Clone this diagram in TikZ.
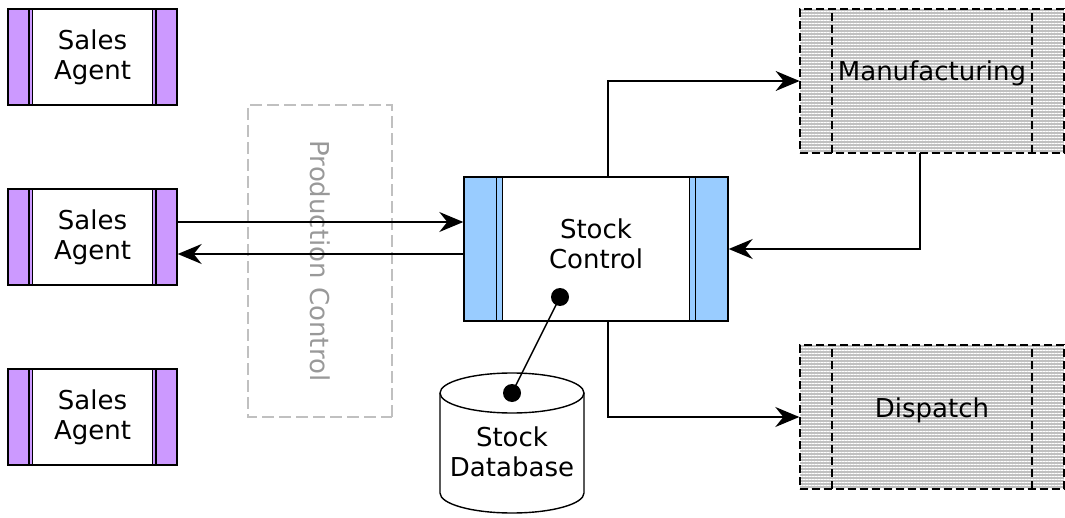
\documentclass[tikz,border=0pt]{standalone}
\usepackage{fontspec}
\setmainfont{DejaVu Sans}
\usetikzlibrary{arrows.meta,patterns.meta,calc}

\definecolor{agentpurple}{HTML}{CC99FF}
\definecolor{stockblue}{HTML}{99CCFF}
\definecolor{hatchgray}{HTML}{C0C0C0}
\definecolor{groupgray}{HTML}{C0C0C0}
\definecolor{grouptext}{HTML}{999999}

\tikzset{
    sidebars/.style={path picture={
            \path (path picture bounding box.south west) coordinate (psw)
                  (path picture bounding box.north west) coordinate (pnw)
                  (path picture bounding box.south east) coordinate (pse)
                  (path picture bounding box.north east) coordinate (pne);
            \fill[#1] (psw) rectangle ($(pnw)!0.145!(pne)$);
            \fill[#1] ($(psw)!0.855!(pse)$) rectangle (pne);
            \foreach \f in {0.124,0.145,0.855,0.876}
                \draw ($(psw)!\f!(pse)$) -- ($(pnw)!\f!(pne)$);
        }},
    sidedashes/.style={path picture={
            \path (path picture bounding box.south west) coordinate (psw)
                  (path picture bounding box.north west) coordinate (pnw)
                  (path picture bounding box.south east) coordinate (pse)
                  (path picture bounding box.north east) coordinate (pne);
            \foreach \f in {0.121,0.879}
                \draw[dash pattern=on 4pt off 2pt] ($(psw)!\f!(pse)$) -- ($(pnw)!\f!(pne)$);
        }}
}

\begin{document}
\begin{tikzpicture}[
        x=0.5pt, y=-0.5pt,
        line width=0.7pt,
        every node/.style={font=\fontsize{13}{15}\selectfont, align=center},
        arr/.style={-{Stealth[length=12pt,width=10pt,inset=4pt]}},
        agent/.style={draw, fill=white, minimum width=84.5pt, minimum height=48pt, sidebars=agentpurple},
        stockbox/.style={draw, fill=white, minimum width=132pt, minimum height=72pt, sidebars=stockblue},
        dept/.style={draw, dash pattern=on 4pt off 2pt, preaction={fill=hatchgray},
                pattern={Lines[angle=0,distance=1.5pt,line width=0.4pt]}, pattern color=white,
                minimum width=132pt, minimum height=72pt, text height=0pt, text depth=0pt, sidedashes},
        group/.style={draw=groupgray, dash pattern=on 6pt off 2.5pt, text=grouptext, rotate=-90,
                minimum width=156pt, minimum height=72pt}
    ]
    \useasboundingbox (0,0) rectangle (1065,518);

    \node[group] (prod) at (320,261) {Production Control};

    \node[agent] (agent1) at (92.5,57) {Sales\\Agent};
    \node[agent] (agent2) at (92.5,237) {Sales\\Agent};
    \node[agent] (agent3) at (92.5,417) {Sales\\Agent};

    \node[stockbox, text depth=5pt] (stock) at (596,249) {Stock\\Control};
    \node[dept] (manuf) at (932,81) {Manufacturing};
    \node[dept] (dispatch) at (932,417) {Dispatch};

    % database drum
    \draw[fill=white] (440,393) -- (440,493) arc[start angle=180, end angle=0, x radius=72, y radius=20]
        -- (584,393);
    \draw (512,393) ellipse[x radius=72, y radius=20];
    \coordinate (dbdot) at (512,393);
    \node (db) at (512,452) {Stock\\Database};

    % orders in, replies out
    \coordinate (a2out) at ([yshift=7.5pt]agent2.east);
    \coordinate (a2in) at ([yshift=-2.5pt]stock.west);
    \draw[arr] (a2out) -- (a2out -| stock.west);
    \draw[arr] (a2in) -- (a2in -| agent2.east);

    \draw[arr] ([xshift=6pt]stock.north) |- (manuf.west);
    \draw[arr] ([xshift=-6pt]manuf.south) |- (stock.east);
    \draw[arr] ([xshift=6pt]stock.south) |- (dispatch.west);

    % database link
    \coordinate (scdot) at ([xshift=-18pt,yshift=-24pt]stock.center);
    \draw (scdot) -- (dbdot);
    \fill (scdot) circle[radius=4.5pt] (dbdot) circle[radius=4.5pt];
\end{tikzpicture}
\end{document}
